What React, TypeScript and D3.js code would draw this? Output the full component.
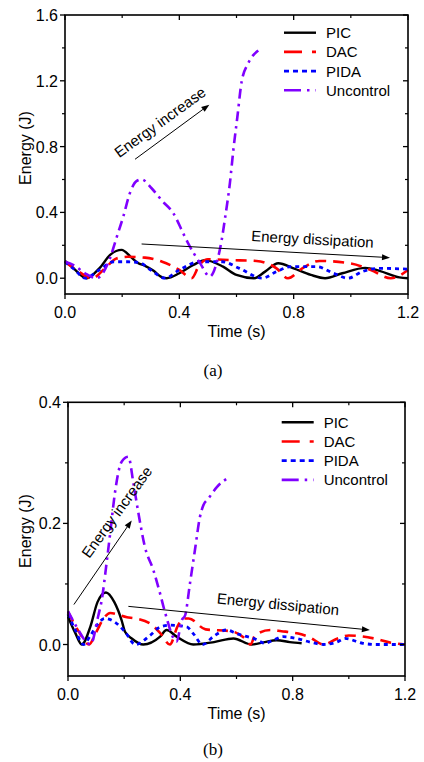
import React from "react";
import * as d3 from "d3";

// ---------- Data: panel (a) ----------
const aPicT = [0, 0.03, 0.076, 0.12, 0.16, 0.198, 0.23, 0.255, 0.28, 0.31, 0.335, 0.356, 0.4, 0.449, 0.49, 0.553, 0.6, 0.662, 0.7, 0.746, 0.8, 0.86, 0.91, 0.97, 1.05, 1.1, 1.17, 1.2];
const aPicE = [0.105, 0.06, 0.0, 0.06, 0.145, 0.172, 0.13, 0.093, 0.075, 0.045, 0.01, 0.0, 0.03, 0.08, 0.11, 0.07, 0.02, 0.0, 0.04, 0.091, 0.06, 0.02, 0.0, 0.03, 0.063, 0.045, 0.005, 0.0];

const aDacT = [0, 0.04, 0.095, 0.14, 0.18, 0.22, 0.28, 0.34, 0.4, 0.443, 0.47, 0.5, 0.58, 0.67, 0.74, 0.78, 0.83, 0.89, 1.0, 1.07, 1.14, 1.2];
const aDacE = [0.1, 0.05, 0.0, 0.06, 0.12, 0.13, 0.125, 0.1, 0.05, 0.0, 0.08, 0.115, 0.11, 0.105, 0.06, 0.0, 0.06, 0.105, 0.09, 0.05, 0.0, 0.05];

const aPidaT = [0, 0.035, 0.07, 0.12, 0.17, 0.22, 0.26, 0.3, 0.35, 0.4, 0.47, 0.55, 0.61, 0.69, 0.74, 0.79, 0.88, 0.94, 0.99, 1.04, 1.1, 1.2];
const aPidaE = [0.1, 0.05, 0.0, 0.05, 0.1, 0.1, 0.095, 0.05, 0.0, 0.05, 0.1, 0.1, 0.06, 0.0, 0.04, 0.07, 0.07, 0.03, 0.0, 0.04, 0.06, 0.055];

const aUncT = [0, 0.03, 0.07, 0.11, 0.157, 0.18, 0.204, 0.227, 0.25, 0.268, 0.303, 0.34, 0.379, 0.413, 0.43, 0.472, 0.507, 0.53, 0.548, 0.56, 0.577, 0.589, 0.603, 0.618, 0.641, 0.676];
const aUncE = [0.1, 0.08, 0.03, 0.0, 0.12, 0.245, 0.375, 0.517, 0.59, 0.6, 0.547, 0.47, 0.395, 0.275, 0.215, 0.093, 0.01, 0.09, 0.23, 0.366, 0.58, 0.78, 0.98, 1.195, 1.307, 1.384];

// ---------- Data: panel (b) ----------
const bPicT = [0, 0.025, 0.049, 0.08, 0.105, 0.135, 0.165, 0.191, 0.203, 0.227, 0.268, 0.328, 0.351, 0.387, 0.446, 0.52, 0.589, 0.654, 0.7, 0.743, 0.79, 0.832];
const bPicE = [0.046, 0.02, 0.0, 0.03, 0.07, 0.086, 0.07, 0.04, 0.021, 0.01, 0.0, 0.013, 0.024, 0.013, 0.0, 0.004, 0.01, 0.0, 0.004, 0.007, 0.004, 0.002];

const bDacT = [0, 0.04, 0.075, 0.1, 0.13, 0.15, 0.21, 0.24, 0.3, 0.33, 0.363, 0.39, 0.41, 0.43, 0.49, 0.58, 0.63, 0.65, 0.666, 0.72, 0.76, 0.82, 0.86, 0.91, 0.96, 1.0, 1.09, 1.15, 1.2];
const bDacE = [0.054, 0.02, 0.0, 0.02, 0.045, 0.052, 0.045, 0.043, 0.032, 0.018, 0.0, 0.03, 0.043, 0.043, 0.025, 0.022, 0.01, 0.0, 0.015, 0.024, 0.022, 0.018, 0.012, 0.0, 0.01, 0.015, 0.01, 0.003, 0.0];

const bPidaT = [0, 0.025, 0.055, 0.08, 0.108, 0.13, 0.167, 0.203, 0.24, 0.292, 0.328, 0.363, 0.423, 0.446, 0.48, 0.517, 0.565, 0.6, 0.672, 0.7, 0.73, 0.766, 0.814, 0.862, 0.91, 0.957, 0.986, 1.05, 1.1, 1.2];
const bPidaE = [0.05, 0.025, 0.0, 0.015, 0.035, 0.043, 0.037, 0.021, 0.0, 0.015, 0.029, 0.032, 0.029, 0.018, 0.0, 0.013, 0.024, 0.018, 0.008, 0.002, 0.007, 0.013, 0.01, 0.004, 0.0, 0.004, 0.01, 0.002, 0.0, 0.0];

const bUncT = [0, 0.037, 0.066, 0.08, 0.108, 0.12, 0.138, 0.15, 0.167, 0.191, 0.215, 0.233, 0.25, 0.274, 0.304, 0.328, 0.345, 0.387, 0.405, 0.417, 0.434, 0.452, 0.47, 0.482, 0.5, 0.53, 0.577];
const bUncE = [0.055, 0.024, 0.004, 0.0, 0.048, 0.073, 0.137, 0.183, 0.25, 0.302, 0.31, 0.266, 0.219, 0.161, 0.123, 0.084, 0.054, 0.005, 0.04, 0.048, 0.1, 0.156, 0.211, 0.23, 0.241, 0.26, 0.277];

// ---------- Labels / ticks ----------
const seriesNames = ["PIC", "DAC", "PIDA", "Uncontrol"];
const xTicks = [0, 0.4, 0.8, 1.2];
const xMinor = [0.2, 0.6, 1.0];
const aYTicks = [0, 0.4, 0.8, 1.2, 1.6];
const aYMinor = [0.2, 0.6, 1.0, 1.4];
const bYTicks = [0, 0.2, 0.4];
const bYMinor = [0.1, 0.3];

const styles = [
  { color: "#000000", dash: "none", width: 2.4 },
  { color: "#ff0000", dash: "11,7", width: 2.6 },
  { color: "#0000ff", dash: "4,4", width: 2.8 },
  { color: "#8000ff", dash: "10,5,2.5,5", width: 2.6 },
];

const FONT = "'Liberation Sans', Arial, sans-serif";

type Ann = {
  inc: { from: [number, number]; to: [number, number]; text: [number, number]; angle: number };
  dis: { from: [number, number]; to: [number, number]; text: [number, number]; angle: number };
};

function Arrow({ x1, y1, x2, y2 }: { x1: number; y1: number; x2: number; y2: number }) {
  const ang = Math.atan2(y2 - y1, x2 - x1);
  const L = 8, Wd = 3;
  const bx = x2 - L * Math.cos(ang), by = y2 - L * Math.sin(ang);
  const px = -Math.sin(ang) * Wd, py = Math.cos(ang) * Wd;
  return (
    <g>
      <line x1={x1} y1={y1} x2={bx} y2={by} stroke="#000" strokeWidth={1} />
      <path d={`M${x2},${y2}L${bx + px},${by + py}L${bx - px},${by - py}Z`} fill="#000" />
    </g>
  );
}

function Panel({
  left, right, top, bottom, yDomain, yTicks, yMinor, series, ann, yFmt, legendX, legendY, caption, captionY, ytitleY,
}: any) {
  const x = d3.scaleLinear().domain([0, 1.2]).range([left, right]);
  const y = d3.scaleLinear().domain(yDomain).range([bottom, top]);
  const line = d3
    .line<[number, number]>()
    .x((d) => x(d[0]))
    .y((d) => y(d[1]))
    .curve(d3.curveMonotoneX);
  const maj = 5, mnr = 3;
  return (
    <g>
      {/* series */}
      {series.map((s: any, i: number) => (
        <path
          key={i}
          d={line(s.t.map((t: number, k: number) => [t, s.e[k]]) as any) || ""}
          fill="none"
          stroke={styles[i].color}
          strokeWidth={styles[i].width}
          strokeDasharray={styles[i].dash}
          strokeLinejoin="round"
        />
      ))}
      {/* frame */}
      <rect x={left} y={top} width={right - left} height={bottom - top} fill="none" stroke="#000" strokeWidth={1.6} />
      {/* x ticks */}
      {xTicks.map((t) => (
        <g key={"xt" + t}>
          <line x1={x(t)} x2={x(t)} y1={bottom} y2={bottom + maj} stroke="#000" strokeWidth={1.3} />
          <line x1={x(t)} x2={x(t)} y1={top} y2={top + maj} stroke="#000" strokeWidth={1.3} />
          <text x={x(t)} y={bottom + 24} textAnchor="middle" fontSize={16} fontFamily={FONT}>
            {t.toFixed(1)}
          </text>
        </g>
      ))}
      {xMinor.map((t) => (
        <g key={"xm" + t}>
          <line x1={x(t)} x2={x(t)} y1={bottom} y2={bottom + mnr} stroke="#000" strokeWidth={1.2} />
          <line x1={x(t)} x2={x(t)} y1={top} y2={top + mnr} stroke="#000" strokeWidth={1.2} />
        </g>
      ))}
      {/* y ticks */}
      {yTicks.map((v: number) => (
        <g key={"yt" + v}>
          <line x1={left - maj} x2={left} y1={y(v)} y2={y(v)} stroke="#000" strokeWidth={1.3} />
          <line x1={right - maj} x2={right} y1={y(v)} y2={y(v)} stroke="#000" strokeWidth={1.3} />
          <text x={left - 7} y={y(v) + 6} textAnchor="end" fontSize={16} fontFamily={FONT}>
            {yFmt(v)}
          </text>
        </g>
      ))}
      {yMinor.map((v: number) => (
        <g key={"ym" + v}>
          <line x1={left - mnr} x2={left} y1={y(v)} y2={y(v)} stroke="#000" strokeWidth={1.2} />
          <line x1={right - mnr} x2={right} y1={y(v)} y2={y(v)} stroke="#000" strokeWidth={1.2} />
        </g>
      ))}
      {/* axis titles */}
      <text x={(left + right) / 2} y={bottom + 43} textAnchor="middle" fontSize={16} fontFamily={FONT}>
        Time (s)
      </text>
      <text
        transform={`translate(31,${ytitleY}) rotate(-90)`}
        textAnchor="middle"
        fontSize={16}
        fontFamily={FONT}
      >
        Energy (J)
      </text>
      {/* legend */}
      {seriesNames.map((n, i) => (
        <g key={n}>
          <line
            x1={legendX}
            x2={legendX + 32}
            y1={legendY + i * 19.2}
            y2={legendY + i * 19.2}
            stroke={styles[i].color}
            strokeWidth={styles[i].width}
            strokeDasharray={i === 1 ? "18,10" : i === 2 ? "5,4" : i === 3 ? "17,6,2.5,6" : "none"}
          />
          <text x={legendX + 42} y={legendY + i * 19.2 + 5.5} fontSize={15} fontFamily={FONT}>
            {n}
          </text>
        </g>
      ))}
      {/* annotations */}
      <Arrow x1={x(ann.inc.from[0])} y1={y(ann.inc.from[1])} x2={x(ann.inc.to[0])} y2={y(ann.inc.to[1])} />
      <text
        transform={`translate(${x(ann.inc.text[0])},${y(ann.inc.text[1])}) rotate(${ann.inc.angle})`}
        textAnchor="middle"
        dominantBaseline="central"
        fontSize={15}
        fontFamily={FONT}
      >
        Energy increase
      </text>
      <Arrow x1={x(ann.dis.from[0])} y1={y(ann.dis.from[1])} x2={x(ann.dis.to[0])} y2={y(ann.dis.to[1])} />
      <text
        transform={`translate(${x(ann.dis.text[0])},${y(ann.dis.text[1])}) rotate(${ann.dis.angle})`}
        textAnchor="middle"
        dominantBaseline="central"
        fontSize={15}
        fontFamily={FONT}
      >
        Energy dissipation
      </text>
      <text x={213} y={captionY} textAnchor="middle" fontSize={17} fontFamily="'Liberation Serif', 'Times New Roman', serif">
        {caption}
      </text>
    </g>
  );
}

const annA: Ann = {
  inc: { from: [0.245, 0.723], to: [0.505, 1.055], text: [0.332, 0.95], angle: -36 },
  dis: { from: [0.268, 0.208], to: [1.137, 0.125], text: [0.866, 0.239], angle: 3.2 },
};
const annB: Ann = {
  inc: { from: [0.021, 0.066], to: [0.227, 0.205], text: [0.173, 0.219], angle: -54 },
  dis: { from: [0.215, 0.063], to: [1.075, 0.024], text: [0.748, 0.067], angle: 5.5 },
};

export default function App() {
  return (
    <svg width={424} height={762} style={{ position: "absolute", left: 0, top: 0, background: "#fff" }}>
      <rect width={424} height={762} fill="#fff" />
      <Panel
        left={65}
        right={408}
        top={15}
        bottom={294}
        yDomain={[-0.096, 1.6]}
        yTicks={aYTicks}
        yMinor={aYMinor}
        yFmt={(v: number) => v.toFixed(1)}
        series={[
          { t: aPicT, e: aPicE },
          { t: aDacT, e: aDacE },
          { t: aPidaT, e: aPidaE },
          { t: aUncT, e: aUncE },
        ]}
        ann={annA}
        legendX={284}
        legendY={32.7}
        caption="(a)"
        captionY={376}
        ytitleY={148}
      />
      <Panel
        left={68}
        right={405}
        top={402.3}
        bottom={676}
        yDomain={[-0.052, 0.4]}
        yTicks={bYTicks}
        yMinor={bYMinor}
        yFmt={(v: number) => v.toFixed(1)}
        series={[
          { t: bPicT, e: bPicE },
          { t: bDacT, e: bDacE },
          { t: bPidaT, e: bPidaE },
          { t: bUncT, e: bUncE },
        ]}
        ann={annB}
        legendX={281.7}
        legendY={422.3}
        caption="(b)"
        captionY={755}
        ytitleY={531}
      />
    </svg>
  );
}
